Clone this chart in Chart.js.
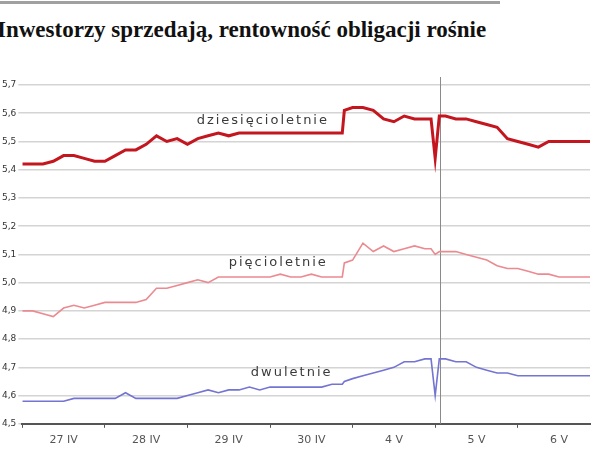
<!DOCTYPE html>
<html>
<head>
<meta charset="utf-8">
<script src="https://cdn.jsdelivr.net/npm/chart.js@4/dist/chart.umd.min.js"></script>
<style>
    body { margin: 0; background: #fff; width: 615px; height: 473px; overflow: hidden; position: relative; }
    #rule { position: absolute; top: 1px; left: 0; width: 500px; height: 3px; background: #a0a0a0; }
    #title { position: absolute; top: 17px; left: -3px; font: bold 23px "Liberation Serif", "DejaVu Serif", serif; color: #111; white-space: nowrap; }
    #wrap { position: absolute; top: 66px; left: 0; width: 615px; height: 407px; }
</style>
</head>
<body>
<div id="rule"></div>
<div id="title">Inwestorzy sprzedają, rentowność obligacji rośnie</div>
<div id="wrap"><canvas id="chart"></canvas></div>
<script>
// Days shown on the x axis (8 readings per session)
const dayLabels = ['27 IV', '28 IV', '29 IV', '30 IV', '4 V', '5 V', '6 V'];
const perDay = 8;

// Reading times (in 1/8 of a session), extra readings around the jumps
const times = [0, 1, 2, 3, 4, 5, 6, 7,
               8, 9, 10, 11, 12, 13, 14, 15,
               16, 17, 18, 19, 20, 21, 22, 23,
               24, 25, 26, 27, 28, 29, 30, 31, 31.2,
               32, 33, 34, 35, 36, 37, 38, 39, 39.6, 40, 40.4,
               41, 42, 43, 44, 45, 46, 47,
               48, 49, 50, 51, 52, 53, 54, 55];

// Yields (%)
const yield10 = [5.42, 5.42, 5.42, 5.43, 5.45, 5.45, 5.44, 5.43,
                 5.43, 5.45, 5.47, 5.47, 5.49, 5.52, 5.50, 5.51,
                 5.49, 5.51, 5.52, 5.53, 5.52, 5.53, 5.53, 5.53,
                 5.53, 5.53, 5.53, 5.53, 5.53, 5.53, 5.53, 5.53, 5.61,
                 5.62, 5.62, 5.61, 5.58, 5.57, 5.59, 5.58, 5.58, 5.58, 5.44, 5.59,
                 5.59, 5.58, 5.58, 5.57, 5.56, 5.55, 5.51,
                 5.50, 5.49, 5.48, 5.50, 5.50, 5.50, 5.50, 5.50];
const yield5 = [4.90, 4.90, 4.89, 4.88, 4.91, 4.92, 4.91, 4.92,
                4.93, 4.93, 4.93, 4.93, 4.94, 4.98, 4.98, 4.99,
                5.00, 5.01, 5.00, 5.02, 5.02, 5.02, 5.02, 5.02,
                5.02, 5.03, 5.02, 5.02, 5.03, 5.02, 5.02, 5.02, 5.07,
                5.08, 5.14, 5.11, 5.13, 5.11, 5.12, 5.13, 5.12, 5.12, 5.10, 5.11,
                5.11, 5.11, 5.10, 5.09, 5.08, 5.06, 5.05,
                5.05, 5.04, 5.03, 5.03, 5.02, 5.02, 5.02, 5.02];
const yield2 = [4.58, 4.58, 4.58, 4.58, 4.58, 4.59, 4.59, 4.59,
                4.59, 4.59, 4.61, 4.59, 4.59, 4.59, 4.59, 4.59,
                4.60, 4.61, 4.62, 4.61, 4.62, 4.62, 4.63, 4.62,
                4.63, 4.63, 4.63, 4.63, 4.63, 4.63, 4.64, 4.64, 4.65,
                4.66, 4.67, 4.68, 4.69, 4.70, 4.72, 4.72, 4.73, 4.73, 4.60, 4.73,
                4.73, 4.72, 4.72, 4.70, 4.69, 4.68, 4.68,
                4.67, 4.67, 4.67, 4.67, 4.67, 4.67, 4.67, 4.67];

// Y axis range and step
const yMin = 4.5;
const yMax = 5.7;
const yStep = 0.1;

// Time of the vertical marker
const eventTime = 40.5;

// Series captions: text, time, yield level
const noteTexts = ['dziesięcioletnie', 'pięcioletnie', 'dwuletnie'];
const noteTime = [23.3, 24.8, 26.1];
const noteValue = [5.575, 5.07, 4.68];

function toPoints(values) {
    return values.map((v, i) => ({ x: times[i], y: v }));
}

// Vertical marker line across the plot
const eventLine = {
    id: 'eventLine',
    beforeDatasetsDraw(chart) {
        const ctx = chart.ctx;
        const x = Math.round(chart.scales.x.getPixelForValue(eventTime)) + 0.5;
        ctx.save();
        ctx.strokeStyle = '#8a8a8a';
        ctx.lineWidth = 1;
        ctx.beginPath();
        ctx.moveTo(x, chart.chartArea.top - 8);
        ctx.lineTo(x, chart.chartArea.bottom);
        ctx.stroke();
        ctx.restore();
    }
};

// Captions next to each line
const seriesNotes = {
    id: 'seriesNotes',
    afterDatasetsDraw(chart) {
        const ctx = chart.ctx;
        ctx.save();
        ctx.font = '13px "DejaVu Sans", sans-serif';
        ctx.letterSpacing = '2px';
        ctx.fillStyle = '#3a3a3a';
        ctx.textAlign = 'center';
        ctx.textBaseline = 'middle';
        noteTexts.forEach((t, i) => {
            const x = chart.scales.x.getPixelForValue(noteTime[i]);
            const y = chart.scales.y.getPixelForValue(noteValue[i]);
            ctx.fillText(t, x, y);
        });
        ctx.restore();
    }
};

new Chart(document.getElementById('chart'), {
    type: 'line',
    data: {
        datasets: [
            {
                label: 'dziesięcioletnie',
                data: toPoints(yield10),
                borderColor: '#c4161f',
                borderWidth: 3,
                pointRadius: 0,
                tension: 0
            },
            {
                label: 'pięcioletnie',
                data: toPoints(yield5),
                borderColor: '#eb8a90',
                borderWidth: 1.6,
                pointRadius: 0,
                tension: 0
            },
            {
                label: 'dwuletnie',
                data: toPoints(yield2),
                borderColor: '#7474d2',
                borderWidth: 1.6,
                pointRadius: 0,
                tension: 0
            }
        ]
    },
    options: {
        responsive: true,
        maintainAspectRatio: false,
        animation: false,
        layout: { padding: { left: 0, right: 25, top: 19, bottom: 20 } },
        plugins: {
            legend: { display: false },
            tooltip: { enabled: false }
        },
        scales: {
            x: {
                type: 'linear',
                min: 0,
                max: times[times.length - 1],
                afterBuildTicks: scale => {
                    const ticks = [];
                    for (let t = 0; t <= scale.max; t += perDay / 2) ticks.push({ value: t });
                    scale.ticks = ticks;
                },
                grid: {
                    drawOnChartArea: false,
                    tickLength: 4,
                    color: ctx => (ctx.tick && ctx.tick.value % perDay === 0 ? '#555' : 'transparent')
                },
                border: { color: '#555', width: 2 },
                ticks: {
                    autoSkip: false,
                    maxRotation: 0,
                    padding: 6,
                    color: '#555',
                    font: { family: 'DejaVu Sans', size: 11 },
                    callback: v => (v % perDay === perDay / 2 ? dayLabels[Math.floor(v / perDay)] : '')
                }
            },
            y: {
                min: yMin,
                max: yMax,
                border: { display: false },
                grid: { color: '#d4d4d4', lineWidth: 1.5, tickLength: 4 },
                ticks: {
                    stepSize: yStep,
                    padding: 2,
                    color: '#333',
                    font: { family: 'DejaVu Sans', size: 9 },
                    callback: v => v.toFixed(1).replace('.', ',')
                }
            }
        }
    },
    plugins: [eventLine, seriesNotes]
});
</script>
</body>
</html>
